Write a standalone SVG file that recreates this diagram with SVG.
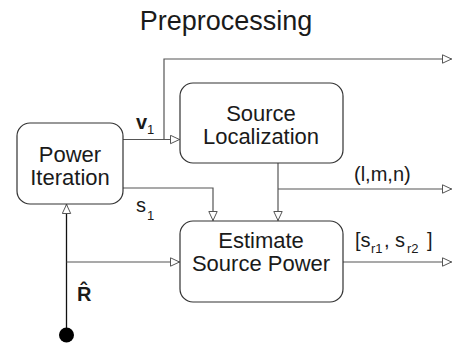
<svg xmlns="http://www.w3.org/2000/svg" width="455" height="344" viewBox="0 0 455 344">
<defs>
<marker id="arr" viewBox="0 0 10 10" refX="10" refY="5" markerWidth="10" markerHeight="10" markerUnits="userSpaceOnUse" orient="auto">
<path d="M0.5,0.8 L9.5,5 L0.5,9.2 z" fill="#fff" stroke="#555" stroke-width="1"/>
</marker>
</defs>
<style>
text{font-family:"Liberation Sans",Arial,sans-serif;fill:#1a1a1a}
.box{fill:#fff;stroke:#333;stroke-width:1.2}
.lbl{font-size:22px;text-anchor:middle}
.c{fill:none;stroke:#555;stroke-width:1.2}
.k{fill:none;stroke:#111;stroke-width:1.3}
.t{font-size:20px}
.sub{font-size:13px}
</style>
<rect width="455" height="344" fill="#fff"/>
<text x="226" y="30" style="font-size:27px;text-anchor:middle">Preprocessing</text>
<g id="connectors">
<path class="c" d="M123,139.5 H180" marker-end="url(#arr)"/>
<path class="c" d="M164,139.5 V59 H452" marker-end="url(#arr)"/>
<path class="c" d="M123,188 H213 V221" marker-end="url(#arr)"/>
<path class="c" d="M278,163 V221" marker-end="url(#arr)"/>
<path class="c" d="M278,189 H452" marker-end="url(#arr)"/>
<path class="c" d="M343,262 H452" marker-end="url(#arr)"/>
<path class="k" d="M66.5,335 V204" marker-end="url(#arr)"/>
<path class="c" d="M66.5,262 H180" marker-end="url(#arr)"/>
<circle cx="66.5" cy="335" r="7.5" fill="#000"/>
</g>
<g id="power-iteration">
<rect class="box" x="17" y="123" width="106" height="81" rx="13"/>
<text class="lbl" x="70" y="162">Power</text>
<text class="lbl" x="70" y="185">Iteration</text>
</g>
<g id="source-localization">
<rect class="box" x="180" y="83" width="163" height="80" rx="13"/>
<text class="lbl" x="261" y="121">Source</text>
<text class="lbl" x="261" y="144">Localization</text>
</g>
<g id="estimate-source-power">
<rect class="box" x="180" y="221" width="163" height="81" rx="13"/>
<text class="lbl" x="261" y="248">Estimate</text>
<text class="lbl" x="261" y="271">Source Power</text>
</g>
<g id="labels">
<text class="t" x="136" y="129" style="font-weight:bold">v</text>
<text class="sub" x="147" y="134">1</text>
<text class="t" x="136" y="212">s</text>
<text class="sub" x="147" y="220">1</text>
<text class="t" x="354" y="181">(l,m,n)</text>
<text class="t" x="355" y="247">[s</text>
<text class="sub" x="371" y="253">r1</text>
<text class="t" x="384" y="247">, s</text>
<text class="sub" x="407" y="253">r2</text>
<text class="t" x="427" y="247">]</text>
<text x="77" y="301" style="font-size:20px;font-weight:bold">R&#x302;</text>
</g>
</svg>
